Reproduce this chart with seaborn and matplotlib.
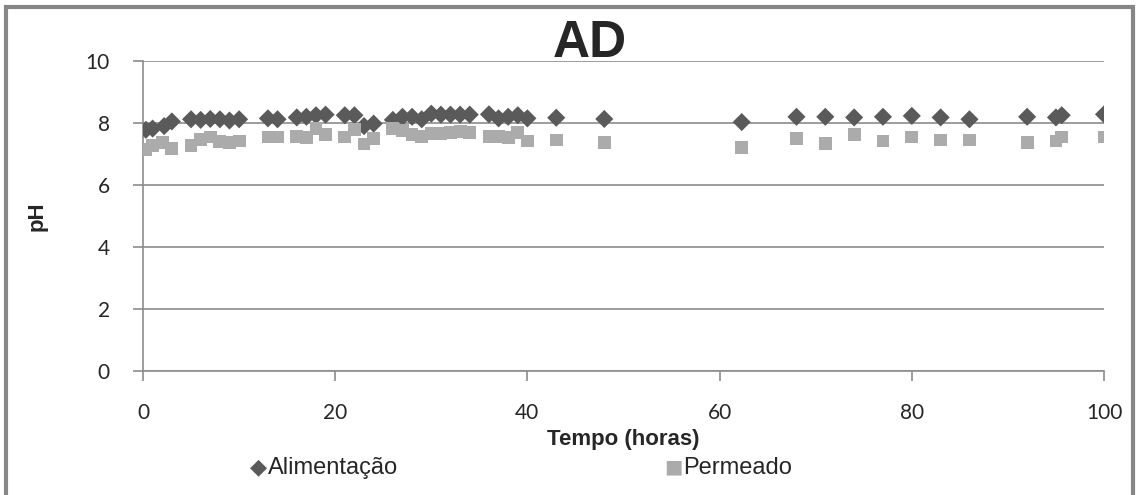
import numpy as np
import pandas as pd
import matplotlib
matplotlib.use("Agg")
import matplotlib.pyplot as plt
import seaborn as sns
from matplotlib.patches import Rectangle

# Alimentação (feed) pH
t_alim = [0.3, 1.0, 2.2, 3.0, 5.0, 6.0, 7.0, 8.0, 9.0, 10.0, 13.0, 14.0,
          16.0, 17.0, 18.0, 19.0, 21.0, 22.0, 23.0, 24.0, 26.0, 27.0, 28.0,
          29.0, 30.0, 31.0, 32.0, 33.0, 34.0, 36.0, 37.0, 38.0, 39.0, 40.0,
          43.0, 48.0, 62.3, 68.0, 71.0, 74.0, 77.0, 80.0, 83.0, 86.0, 92.0,
          95.0, 95.6, 100.0]
ph_alim = [7.78, 7.82, 7.9, 8.05, 8.12, 8.1, 8.13, 8.12, 8.08, 8.12, 8.15,
           8.12, 8.18, 8.2, 8.25, 8.27, 8.25, 8.25, 7.9, 7.98, 8.1, 8.2,
           8.2, 8.12, 8.3, 8.27, 8.27, 8.27, 8.27, 8.28, 8.15, 8.2, 8.25,
           8.15, 8.17, 8.13, 8.03, 8.2, 8.2, 8.18, 8.2, 8.23, 8.18, 8.12,
           8.2, 8.18, 8.25, 8.28]

# Permeado (permeate) pH
t_perm = [0.3, 1.0, 2.0, 3.0, 5.0, 6.0, 7.0, 8.0, 9.0, 10.0, 13.0, 14.0,
          16.0, 17.0, 18.0, 19.0, 21.0, 22.0, 23.0, 24.0, 26.0, 27.0, 28.0,
          29.0, 30.0, 31.0, 32.0, 33.0, 34.0, 36.0, 37.0, 38.0, 39.0, 40.0,
          43.0, 48.0, 62.3, 68.0, 71.0, 74.0, 77.0, 80.0, 83.0, 86.0, 92.0,
          95.0, 95.6, 100.0]
ph_perm = [7.15, 7.28, 7.38, 7.18, 7.28, 7.48, 7.55, 7.4, 7.37, 7.42, 7.55,
           7.55, 7.57, 7.52, 7.82, 7.62, 7.55, 7.78, 7.32, 7.5, 7.82, 7.75,
           7.62, 7.57, 7.65, 7.65, 7.7, 7.72, 7.7, 7.57, 7.57, 7.52, 7.7,
           7.42, 7.45, 7.37, 7.22, 7.5, 7.35, 7.62, 7.42, 7.55, 7.45, 7.45,
           7.38, 7.42, 7.55, 7.55]

df = pd.concat([
    pd.DataFrame({"t": t_alim, "ph": ph_alim, "serie": "Alimentação"}),
    pd.DataFrame({"t": t_perm, "ph": ph_perm, "serie": "Permeado"}),
])

sns.set_style("white")
plt.rcParams["font.family"] = ["Liberation Sans", "DejaVu Sans"]

fig = plt.figure(figsize=(11.39, 4.95), dpi=100)
ax = fig.add_axes([143 / 1139, 1 - 371 / 495, (1104 - 143) / 1139, (371 - 61) / 495])

sns.scatterplot(data=df, x="t", y="ph", hue="serie", style="serie",
                markers={"Alimentação": "D", "Permeado": "s"},
                palette={"Alimentação": "#5a5a5a", "Permeado": "#ababab"},
                size="serie", sizes={"Alimentação": 85, "Permeado": 85},
                linewidth=0, legend=False, ax=ax, zorder=3)

ax.set_xlim(0, 100)
ax.set_ylim(0, 10)
ax.set_xticks(np.arange(0, 101, 20))
ax.set_yticks(np.arange(0, 11, 2))
ax.yaxis.grid(True, color="#8c8c8c", linewidth=1.2)
ax.xaxis.grid(False)
for s in ["top", "right"]:
    ax.spines[s].set_visible(False)
ax.spines["left"].set_color("#8c8c8c")
ax.spines["bottom"].set_color("#8c8c8c")
ax.spines["left"].set_linewidth(1.2)
ax.spines["bottom"].set_linewidth(1.2)
ax.tick_params(axis="both", length=7, width=1.2, color="#8c8c8c",
               direction="out", labelsize=15, left=True, bottom=True)
ax.tick_params(axis="y", pad=17)
ax.tick_params(axis="x", pad=16)
for lab in ax.get_xticklabels() + ax.get_yticklabels():
    lab.set_fontfamily(["Lato", "DejaVu Sans"])

ax.set_xlabel("Tempo (horas)", fontsize=16, fontweight="bold", labelpad=4)
ax.set_ylabel("pH", fontsize=16, fontweight="bold", labelpad=27)

fig.text(590 / 1139, 1 - 57 / 495, "AD", fontsize=37, fontweight="bold",
         ha="center", va="baseline")

# legend below the x label
fig.text(258 / 1139, 1 - 467 / 495, "◆", color="#5a5a5a", fontsize=16,
         ha="center", va="center", family=["DejaVu Sans"])
fig.text(268 / 1139, 1 - 468 / 495, "Alimentação", fontsize=17, va="center")
fig.text(673 / 1139, 1 - 467 / 495, "■", color="#ababab", fontsize=14,
         ha="center", va="center", family=["DejaVu Sans"])
fig.text(683 / 1139, 1 - 468 / 495, "Permeado", fontsize=17, va="center")

# chart frame
fig.patches.append(Rectangle((5.5 / 1139, -0.02), 1127 / 1139, 1.02 - 7.5 / 495,
                             transform=fig.transFigure, fill=False,
                             edgecolor="#868686", linewidth=3))

fig.savefig("out.png", dpi=100)
